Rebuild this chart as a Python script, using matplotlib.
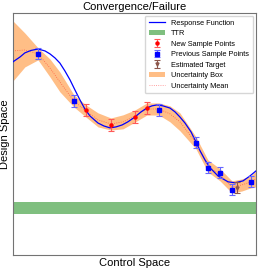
import matplotlib.pyplot as plt
import numpy as np

plt.rcParams['font.family'] = ['Liberation Sans', 'DejaVu Sans']

# response function
resp_x = [0.0, 0.29, 0.49, 0.74, 1.03, 1.32, 1.52, 1.73, 1.93, 2.14, 2.35, 2.55,
          2.76, 2.96, 3.17, 3.50, 3.74, 3.99, 4.24, 4.49, 4.73, 5.02, 5.27, 5.51,
          5.72, 5.93, 6.17, 6.46, 6.67, 6.87, 7.08, 7.33, 7.53, 7.70, 7.90, 8.11,
          8.44, 8.85, 9.14, 9.47, 9.75, 10.0]
resp_y = [7.98, 8.18, 8.35, 8.45, 8.51, 8.43, 8.31, 8.14, 7.93, 7.60, 7.23, 6.82,
          6.40, 6.03, 5.74, 5.45, 5.33, 5.25, 5.29, 5.37, 5.50, 5.70, 5.91, 6.07,
          6.16, 6.20, 6.16, 6.07, 5.91, 5.70, 5.45, 5.08, 4.67, 4.30, 3.93, 3.60,
          3.26, 3.02, 2.98, 3.06, 3.26, 3.47]

# uncertainty band: mean and half width
unc_x = [0.0, 0.49, 1.03, 1.52, 1.93, 2.51, 3.00, 3.50, 4.03, 4.53, 5.02, 5.51,
         6.01, 6.46, 6.87, 7.53, 8.02, 8.52, 9.01, 9.42, 9.79, 10.0]
unc_mean = [8.43, 8.47, 8.31, 7.73, 7.15, 6.36, 5.95, 5.58, 5.41, 5.50, 5.74, 6.03,
            6.03, 5.83, 5.50, 4.63, 3.68, 3.31, 2.81, 2.89, 3.02, 3.14]
unc_half = [1.24, 0.70, 0.25, 0.37, 0.41, 0.25, 0.25, 0.29, 0.25, 0.29, 0.25, 0.25,
            0.25, 0.33, 0.37, 0.25, 0.25, 0.25, 0.25, 0.25, 0.25, 0.33]

# sample points
prev_x = [1.03, 2.51, 6.01, 7.53, 8.02, 8.52, 9.01, 9.79]
prev_y = [8.31, 6.36, 5.99, 4.63, 3.60, 3.39, 2.69, 3.02]
new_x = [3.00, 4.03, 5.02, 5.51]
new_y = [5.99, 5.37, 5.70, 6.07]
est_x = [9.22]
est_y = [2.77]
err = 0.23

ttr_lo, ttr_hi = 1.69, 2.19

fig = plt.figure(figsize=(2.7, 2.7), dpi=100)
ax = fig.add_axes([0.048, 0.056, 0.9, 0.896])

h_resp, = ax.plot(resp_x, resp_y, color='blue', lw=0.9, label='Response Function', zorder=4)
h_ttr = ax.axhspan(ttr_lo, ttr_hi, color='green', alpha=0.5, lw=0, label='TTR')
h_new = ax.errorbar(new_x, new_y, yerr=err, fmt='o', color='red', ms=2.2, capsize=2,
                    elinewidth=0.8, capthick=0.8, ecolor=(1, 0.35, 0.35),
                    label='New Sample Points', zorder=5)
h_prev = ax.errorbar(prev_x, prev_y, yerr=err, fmt='s', color='blue', ms=2.2, capsize=2,
                     elinewidth=0.8, capthick=0.8, ecolor=(0.4, 0.4, 1),
                     label='Previous Sample Points', zorder=5)
h_est = ax.errorbar(est_x, est_y, yerr=err, fmt='v', color='tab:brown', ms=2.2, capsize=2,
                    elinewidth=0.8, capthick=0.8, label='Estimated Target', zorder=5)
lo = np.array(unc_mean) - np.array(unc_half)
hi = np.array(unc_mean) + np.array(unc_half)
h_box = ax.fill_between(unc_x, lo, hi, color='tab:orange', alpha=0.5, lw=0,
                        label='Uncertainty Box')
h_mean, = ax.plot(unc_x, unc_mean, ':', color='red', lw=0.6, alpha=0.5,
                  label='Uncertainty Mean')

ax.set_xlim(0, 10)
ax.set_ylim(0, 10)
ax.set_xticks([])
ax.set_yticks([])
for s in ax.spines.values():
    s.set_color('0.45')
    s.set_linewidth(0.8)

ax.set_title('Convergence/Failure', fontsize=8, pad=2)
ax.set_xlabel('Control Space', fontsize=8, labelpad=2)
ax.set_ylabel('Design Space', fontsize=8, labelpad=2)

handles = [h_resp, h_ttr, h_new, h_prev, h_est, h_box, h_mean]
ax.legend(handles, [h.get_label() for h in handles], loc='upper right', fontsize=5.3,
          handlelength=2.3, borderpad=0.5, labelspacing=0.45, handletextpad=0.8,
          borderaxespad=0.4)

fig.savefig('out.png', dpi=100, facecolor='white')
